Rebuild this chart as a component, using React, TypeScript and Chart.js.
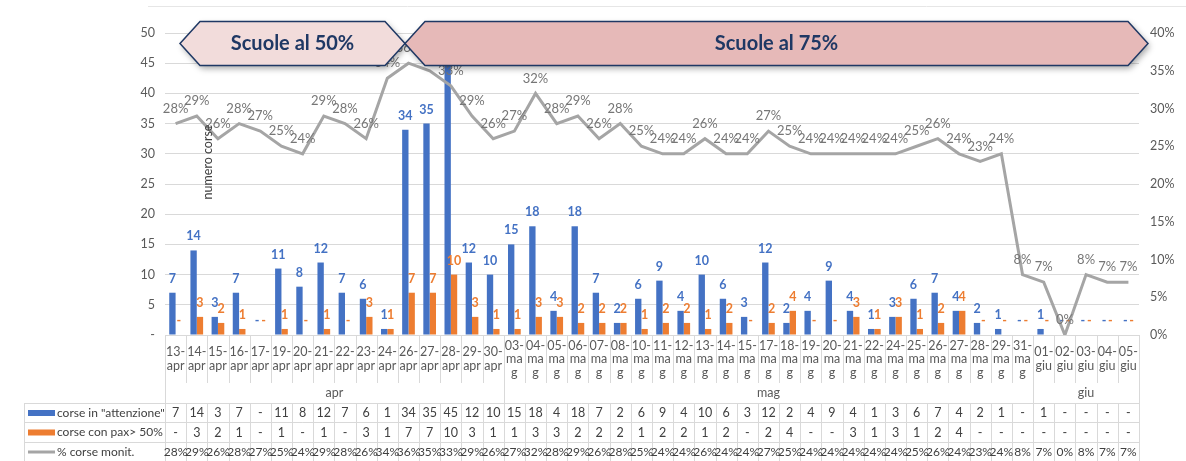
import React, { useEffect, useRef } from "react";
import { Chart, registerables } from "chart.js";

Chart.register(...registerables);

const categories = [
  "13-apr", "14-apr", "15-apr", "16-apr", "17-apr", "19-apr", "20-apr", "21-apr", "22-apr", "23-apr", "24-apr", "26-apr", "27-apr", "28-apr", "29-apr", "30-apr",
  "03-mag", "04-mag", "05-mag", "06-mag", "07-mag", "08-mag", "10-mag", "11-mag", "12-mag", "13-mag", "14-mag", "15-mag", "17-mag", "18-mag", "19-mag", "20-mag", "21-mag", "22-mag", "24-mag", "25-mag", "26-mag", "27-mag", "28-mag", "29-mag", "31-mag",
  "01-giu", "02-giu", "03-giu", "04-giu", "05-giu",
];

const seriesAttenzione = [
  7, 14, 3, 7, 0, 11, 8, 12, 7, 6, 1, 34, 35, 45, 12, 10,
  15, 18, 4, 18, 7, 2, 6, 9, 4, 10, 6, 3, 12, 2, 4, 9, 4, 1, 3, 6, 7, 4, 2, 1, 0,
  1, 0, 0, 0, 0,
];

const seriesPax = [
  0, 3, 2, 1, 0, 1, 0, 1, 0, 3, 1, 7, 7, 10, 3, 1,
  1, 3, 3, 2, 2, 2, 1, 2, 2, 1, 2, 0, 2, 4, 0, 0, 3, 1, 3, 1, 2, 4, 0, 0, 0,
  0, 0, 0, 0, 0,
];

const seriesPct = [
  28, 29, 26, 28, 27, 25, 24, 29, 28, 26, 34, 36, 35, 33, 29, 26,
  27, 32, 28, 29, 26, 28, 25, 24, 24, 26, 24, 24, 27, 25, 24, 24, 24, 24, 24, 25, 26, 24, 23, 24, 8,
  7, 0, 8, 7, 7,
];

const seriesNames = ['corse in "attenzione"', "corse con pax> 50%", "% corse monit."];
const bannerTexts = ["Scuole al 50%", "Scuole al 75%"];
const leftAxisTitle = "numero corse";

const FONT = "Lato, 'Open Sans', sans-serif";
const BLUE = "#4472c4";
const ORANGE = "#ed7d31";
const GRAY_LINE = "#a5a5a5";
const GRID = "#d9d9d9";

const overlay = {
  id: "overlay",
  afterDraw(chart: any) {
    const ctx: CanvasRenderingContext2D = chart.ctx;
    const area = chart.chartArea;
    const xs = chart.scales.x;
    const n = categories.length;
    const L = xs.left;
    const R = xs.right;
    const colW = (R - L) / n;
    const px = (v: number) => Math.round(v) + 0.5;

    ctx.save();

    // top frame line
    ctx.strokeStyle = "#e6e6e6";
    ctx.lineWidth = 1;
    ctx.beginPath();
    ctx.moveTo(148, 6.5);
    ctx.lineTo(1186, 6.5);
    ctx.stroke();

    // bar labels
    ctx.textAlign = "center";
    ctx.textBaseline = "middle";
    const barSets: [number, number[], string][] = [
      [1, seriesAttenzione, BLUE],
      [2, seriesPax, ORANGE],
    ];
    for (const [di, vals, col] of barSets) {
      const meta = chart.getDatasetMeta(di);
      meta.data.forEach((el: any, i: number) => {
        const v = vals[i];
        ctx.fillStyle = col;
        ctx.font = `bold 12.5px ${FONT}`;
        ctx.fillText(v ? String(v) : "-", el.x, el.y - 14);
      });
    }

    // line labels
    const lm = chart.getDatasetMeta(0);
    ctx.fillStyle = "#767676";
    ctx.font = `13px ${FONT}`;
    lm.data.forEach((el: any, i: number) => {
      ctx.fillText(seriesPct[i] + "%", el.x, el.y - 15);
    });

    // left axis title
    ctx.save();
    ctx.translate(208, 162);
    ctx.rotate(-Math.PI / 2);
    ctx.fillStyle = "#404040";
    ctx.font = `12.5px ${FONT}`;
    ctx.fillText(leftAxisTitle, 0, 0);
    ctx.restore();

    // category / table grid
    const yAxis = area.bottom;
    const yCatBottom = 383;
    const yGroupBottom = 403;
    const rowYs = [403, 422, 442, 461];
    const months = categories.map((c) => c.split("-")[1]);
    const isBoundary = (i: number) => i === 0 || i === n || months[i] !== months[i - 1];

    ctx.strokeStyle = GRID;
    ctx.lineWidth = 1;
    ctx.beginPath();
    for (let i = 0; i <= n; i++) {
      const x = px(L + i * colW);
      ctx.moveTo(x, yAxis);
      ctx.lineTo(x, isBoundary(i) ? yGroupBottom : yCatBottom);
      ctx.moveTo(x, rowYs[0]);
      ctx.lineTo(x, 461);
    }
    for (const y of rowYs) {
      ctx.moveTo(24, px(y));
      ctx.lineTo(px(R), px(y));
    }
    ctx.moveTo(24.5, rowYs[0]);
    ctx.lineTo(24.5, 461);
    ctx.stroke();

    // category labels
    ctx.fillStyle = "#595959";
    ctx.font = `12.5px ${FONT}`;
    const midY = 359;
    categories.forEach((c, i) => {
      const [d, m] = c.split("-");
      const lines = m === "mag" ? [d + "-", "ma", "g"] : [d + "-", m];
      const cx = L + (i + 0.5) * colW;
      const step = 13.5;
      const y0 = midY - ((lines.length - 1) * step) / 2;
      lines.forEach((t, k) => ctx.fillText(t, cx, y0 + k * step));
    });

    // month group labels
    let start = 0;
    for (let i = 1; i <= n; i++) {
      if (i === n || months[i] !== months[i - 1]) {
        const cx = L + ((start + i) / 2) * colW;
        ctx.fillText(months[start], cx, 393);
        start = i;
      }
    }

    // table rows
    const rowsVals: string[][] = [
      seriesAttenzione.map((v) => (v ? String(v) : "-")),
      seriesPax.map((v) => (v ? String(v) : "-")),
      seriesPct.map((v) => v + "%"),
    ];
    ctx.fillStyle = "#404040";
    rowsVals.forEach((vals, r) => {
      const cy = (rowYs[r] + rowYs[r + 1]) / 2 + 0.5;
      ctx.font = r === 2 ? `12px ${FONT}` : `12.5px ${FONT}`;
      vals.forEach((t, i) => {
        ctx.fillText(t, L + (i + 0.5) * colW, cy);
      });
    });

    // row labels + legend keys
    ctx.textAlign = "left";
    seriesNames.forEach((name, r) => {
      const cy = (rowYs[r] + rowYs[r + 1]) / 2 + 0.5;
      if (r === 0 || r === 1) {
        ctx.fillStyle = r === 0 ? BLUE : ORANGE;
        ctx.fillRect(28, cy - 3, 27, 6);
      } else {
        ctx.strokeStyle = GRAY_LINE;
        ctx.lineWidth = 3;
        ctx.beginPath();
        ctx.moveTo(28, cy);
        ctx.lineTo(55, cy);
        ctx.stroke();
      }
      ctx.fillStyle = "#404040";
      ctx.font = `12px ${FONT}`;
      ctx.fillText(name, 57, cy);
    });

    // banners
    const drawBanner = (x1: number, x2: number, fill: string, text: string) => {
      const top = 21.5;
      const bot = 65.5;
      const mid = (top + bot) / 2;
      const tip = 20;
      const path = () => {
        ctx.beginPath();
        ctx.moveTo(x1, mid);
        ctx.lineTo(x1 + tip, top);
        ctx.lineTo(x2 - tip, top);
        ctx.lineTo(x2, mid);
        ctx.lineTo(x2 - tip, bot);
        ctx.lineTo(x1 + tip, bot);
        ctx.closePath();
      };
      ctx.save();
      ctx.shadowColor = "rgba(0,0,0,0.35)";
      ctx.shadowBlur = 6;
      ctx.shadowOffsetX = 2;
      ctx.shadowOffsetY = 3;
      path();
      ctx.fillStyle = fill;
      ctx.fill();
      ctx.restore();
      path();
      ctx.strokeStyle = "#1f3864";
      ctx.lineWidth = 1.5;
      ctx.stroke();
      ctx.fillStyle = "#1f3864";
      ctx.font = `bold 20px ${FONT}`;
      ctx.textAlign = "center";
      ctx.textBaseline = "middle";
      ctx.fillText(text, (x1 + x2) / 2, mid);
    };
    drawBanner(180, 405, "#f2dcdb", bannerTexts[0]);
    drawBanner(405, 1148, "#e6b9b8", bannerTexts[1]);

    ctx.restore();
  },
};

export default function App() {
  const ref = useRef<HTMLCanvasElement>(null);
  useEffect(() => {
    document.body.style.margin = "0";
    const chart = new Chart(ref.current as HTMLCanvasElement, {
      type: "bar",
      data: {
        labels: categories,
        datasets: [
          {
            type: "line",
            label: seriesNames[2],
            data: seriesPct,
            yAxisID: "y1",
            borderColor: GRAY_LINE,
            backgroundColor: GRAY_LINE,
            borderWidth: 3,
            pointRadius: 0,
            tension: 0,
            order: 0,
          } as any,
          {
            label: seriesNames[0],
            data: seriesAttenzione,
            backgroundColor: BLUE,
            yAxisID: "y",
            categoryPercentage: 0.6,
            barPercentage: 1,
            order: 1,
          },
          {
            label: seriesNames[1],
            data: seriesPax,
            backgroundColor: ORANGE,
            yAxisID: "y",
            categoryPercentage: 0.6,
            barPercentage: 1,
            order: 2,
          },
        ],
      },
      options: {
        responsive: false,
        animation: false,
        layout: { padding: { top: 33, bottom: 126, left: 0, right: 0 } },
        plugins: { legend: { display: false }, tooltip: { enabled: false } },
        scales: {
          x: {
            offset: true,
            grid: { display: false },
            border: { display: true, color: GRID },
            ticks: { display: false },
            afterFit: (s: any) => {
              s.height = 0;
            },
          },
          y: {
            position: "left",
            min: 0,
            max: 50,
            ticks: {
              stepSize: 5,
              padding: 10,
              color: "#595959",
              font: { family: FONT, size: 12.5 },
              callback: (v: any) => (v === 0 ? "-" : String(v)),
            },
            grid: { color: GRID, drawTicks: false },
            border: { display: false },
            afterFit: (s: any) => {
              s.width = 165;
            },
          },
          y1: {
            position: "right",
            min: 0,
            max: 40,
            ticks: {
              stepSize: 5,
              padding: 11,
              color: "#595959",
              font: { family: FONT, size: 12.5 },
              callback: (v: any) => v + "%",
            },
            grid: { drawOnChartArea: false, drawTicks: false },
            border: { display: false },
            afterFit: (s: any) => {
              s.width = 47;
            },
          },
        } as any,
      },
      plugins: [overlay],
    });
    return () => chart.destroy();
  }, []);
  return <canvas ref={ref} width={1186} height={461} style={{ display: "block" }} />;
}
